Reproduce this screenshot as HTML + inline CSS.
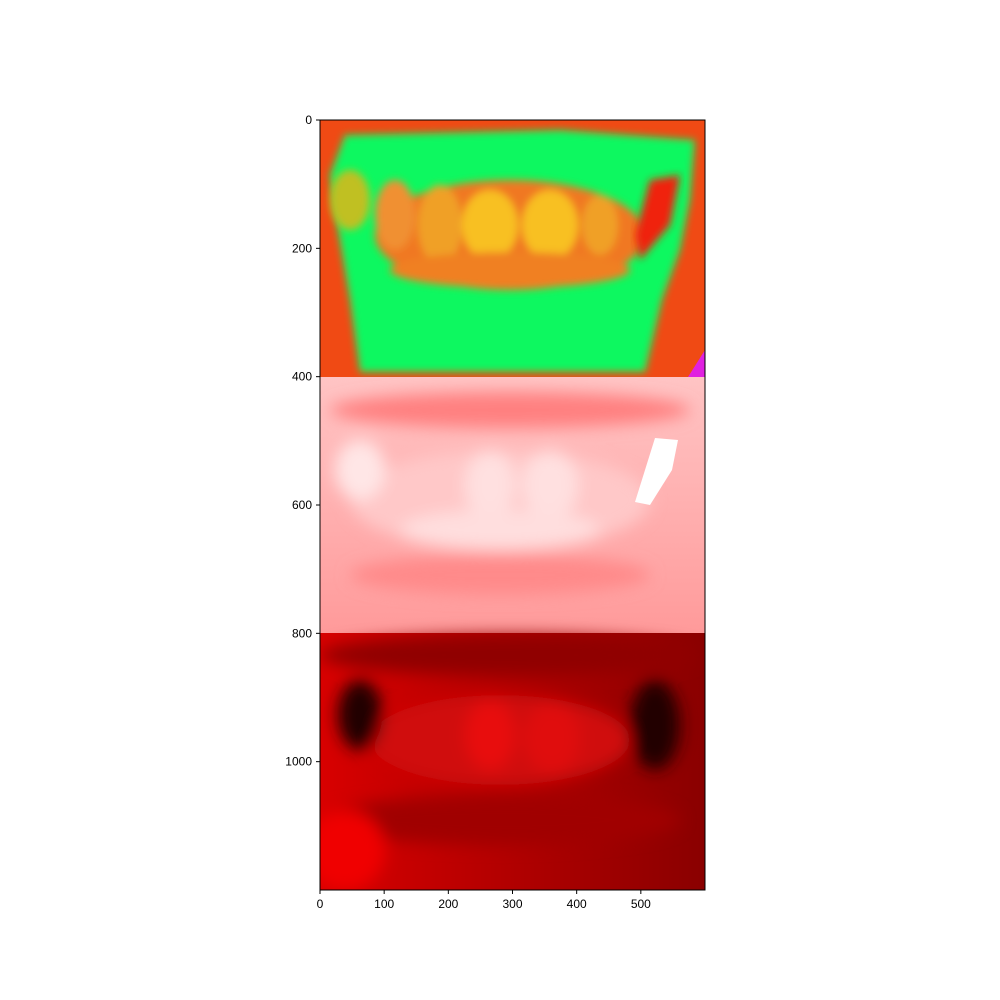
<!DOCTYPE html>
<html><head><meta charset="utf-8"><style>
body{margin:0;background:#fff;}
svg{display:block;font-family:"Liberation Sans",sans-serif;}
</style></head><body>
<svg width="1000" height="1000" viewBox="0 0 1000 1000">
<defs>
<filter id="b4"><feGaussianBlur stdDeviation="4"/></filter>
<filter id="b8"><feGaussianBlur stdDeviation="8"/></filter>
<clipPath id="clipAx"><rect x="320" y="120" width="385" height="770"/></clipPath>
<linearGradient id="gBot" x1="0" x2="1" y1="0" y2="0"><stop offset="0" stop-color="#d80000"/><stop offset="1" stop-color="#8a0000"/></linearGradient>
<linearGradient id="gMid" x1="0" x2="0" y1="0" y2="1"><stop offset="0" stop-color="#ffc4c4"/><stop offset="0.5" stop-color="#ffb0b0"/><stop offset="1" stop-color="#ff9a9a"/></linearGradient>
</defs>
<g clip-path="url(#clipAx)">
 <!-- top panel -->
 <g>
  <rect x="320" y="120" width="385" height="257" fill="#f04a14"/>
  <polygon filter="url(#b4)" fill="#10f860" points="345,135 560,130 695,140 690,200 680,250 662,300 645,372 360,372 350,300 338,230 330,175"/>
  <g filter="url(#b4)">
   <ellipse cx="510" cy="235" rx="135" ry="55" fill="#f07820"/>
   <ellipse cx="395" cy="215" rx="20" ry="35" fill="#f09030"/>
   <ellipse cx="440" cy="225" rx="22" ry="40" fill="#f0a028"/>
   <ellipse cx="490" cy="225" rx="28" ry="35" fill="#f8c020"/>
   <ellipse cx="550" cy="225" rx="28" ry="35" fill="#f8c020"/>
   <ellipse cx="600" cy="225" rx="18" ry="30" fill="#f0a028"/>
   <ellipse cx="510" cy="270" rx="120" ry="18" fill="#f08020"/>
   <ellipse cx="350" cy="200" rx="20" ry="30" fill="#c0c020"/>
  </g>
  <polygon filter="url(#b4)" fill="#f02010" points="650,180 680,175 670,225 640,260 635,235"/>
  <polygon fill="#e020e0" points="688,377 705,350 705,377"/>
 </g>
 <!-- middle panel -->
 <g>
  <rect x="320" y="377" width="385" height="256" fill="url(#gMid)"/>
  <g filter="url(#b8)">
   <ellipse cx="510" cy="410" rx="180" ry="18" fill="#ff8080"/>
   <ellipse cx="500" cy="500" rx="150" ry="50" fill="#ffc8c8"/>
   <ellipse cx="490" cy="485" rx="25" ry="35" fill="#ffe0e0"/>
   <ellipse cx="550" cy="485" rx="28" ry="35" fill="#ffe0e0"/>
   <ellipse cx="500" cy="530" rx="100" ry="20" fill="#ffdede"/>
   <ellipse cx="500" cy="575" rx="150" ry="20" fill="#ff8a8a"/>
   <ellipse cx="360" cy="470" rx="25" ry="30" fill="#ffe6e6"/>
  </g>
  <polygon fill="#ffffff" points="655,438 678,440 672,470 650,505 635,502"/>
 </g>
 <!-- bottom panel -->
 <g>
  <rect x="320" y="633" width="385" height="257" fill="url(#gBot)"/>
  <g filter="url(#b8)">
   <ellipse cx="510" cy="655" rx="190" ry="20" fill="#900000"/>
   <ellipse cx="500" cy="740" rx="130" ry="45" fill="#d00808"/>
   <ellipse cx="490" cy="735" rx="25" ry="35" fill="#e81010"/>
   <ellipse cx="552" cy="738" rx="28" ry="35" fill="#e01010"/>
   <ellipse cx="360" cy="715" rx="22" ry="35" fill="#200000"/>
   <ellipse cx="655" cy="725" rx="25" ry="45" fill="#200000"/>
   <ellipse cx="500" cy="820" rx="180" ry="25" fill="#a00000"/>
   <ellipse cx="345" cy="850" rx="40" ry="40" fill="#f00000"/>
  </g>
 </g>
</g>
<rect x="320" y="120" width="385" height="770" fill="none" stroke="#000" stroke-width="1"/>
<g id="ticks"></g>
<script>
const xTicks=[0,100,200,300,400,500];
const yTicks=[0,200,400,600,800,1000];
const xMax=600, yMax=1200;
function sx(v){return 320+v*385/xMax;}
function sy(v){return 120+v*770/yMax;}
const g=document.getElementById('ticks');
const NS='http://www.w3.org/2000/svg';
xTicks.forEach(v=>{
 const l=document.createElementNS(NS,'line');
 l.setAttribute('x1',sx(v));l.setAttribute('x2',sx(v));l.setAttribute('y1',890);l.setAttribute('y2',894);l.setAttribute('stroke','#000');
 
 
 g.appendChild(l);
 const t=document.createElementNS(NS,'text');
 t.setAttribute('x',sx(v));t.setAttribute('y',908);t.setAttribute('text-anchor','middle');t.setAttribute('font-size','12');
 t.textContent=v;
 
 
 g.appendChild(t);
});
yTicks.forEach(v=>{
 const l=document.createElementNS(NS,'line');
 l.setAttribute('x1',316);l.setAttribute('x2',320);l.setAttribute('y1',sy(v));l.setAttribute('y2',sy(v));l.setAttribute('stroke','#000');
 
 
 g.appendChild(l);
 const t=document.createElementNS(NS,'text');
 t.setAttribute('x',312);t.setAttribute('y',sy(v)+4);t.setAttribute('text-anchor','end');t.setAttribute('font-size','12');
 t.textContent=v;
 
 
 g.appendChild(t);
});
</script>
</svg>
</body></html>
